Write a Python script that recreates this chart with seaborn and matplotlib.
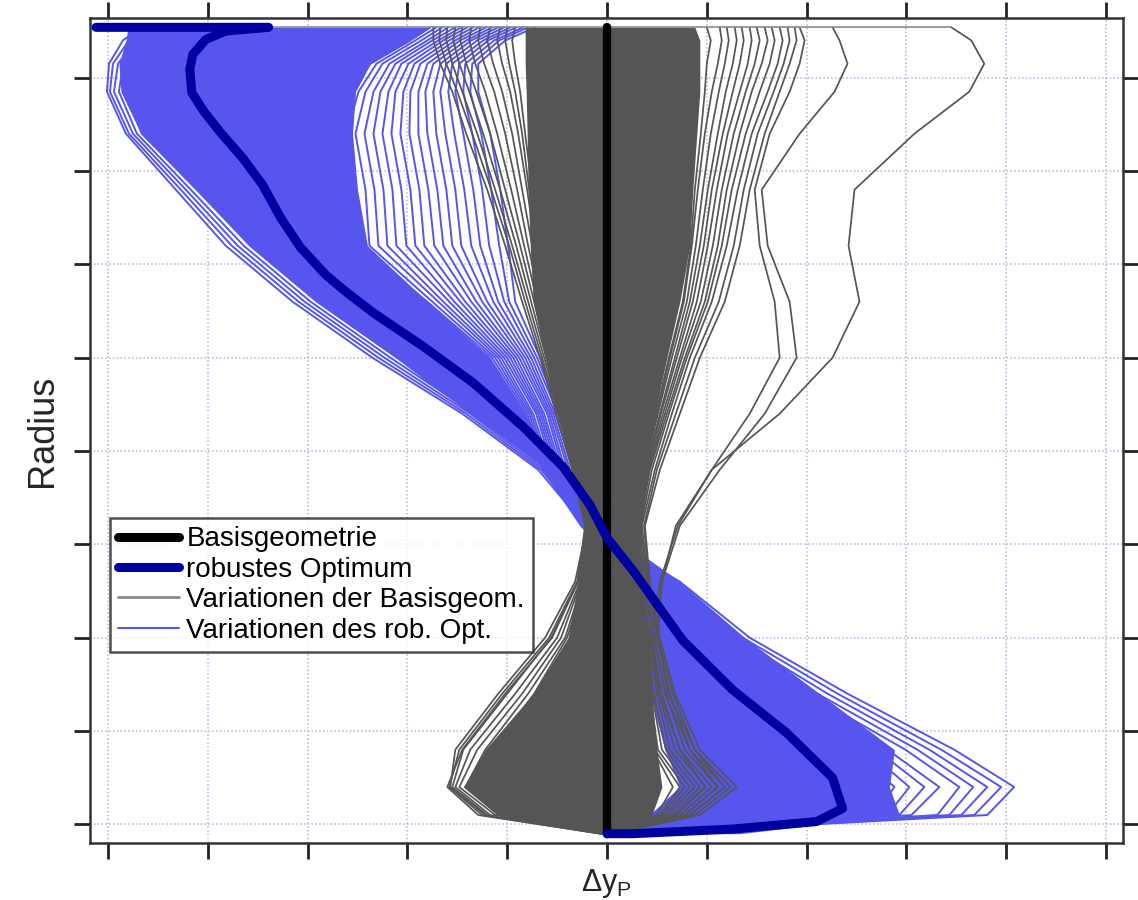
import matplotlib
matplotlib.use("Agg")
import matplotlib.pyplot as plt
from matplotlib.lines import Line2D
import pandas as pd
import seaborn as sns

# Radial stations, tip at the top and hub at the bottom
radius = [854, 840, 815, 785, 740, 680, 620, 560, 500, 440, 380, 320, 260, 200, 140, 80, 40, 10, -10]

# Base geometry: reference line without deviation
base_radius = [-10, 854]
base_dy = [0, 0]

# Robust optimum
opt_radius = [854, 854, 850, 841, 825, 809, 784, 764, 741, 714, 685, 650, 618, 589, 571, 548,
              512, 473, 426, 383, 342, 307, 272, 197, 144, 98, 50, 17, 3, -5, -10, -10]
opt_dy = [-512, -339, -382, -402, -415, -418, -416, -404, -387, -365, -345, -327, -307, -282, -262, -234,
          -184, -134, -84, -44, -17, 0, 26, 76, 126, 180, 226, 236, 210, 126, 26, 0]

# Tip edge of the varied geometries
tip_radius = [854, 854]
tip_dy = [-512, 345]

# Dense cores of the two families of variations (left / right envelope)
base_core_left = [-82, -82, -82, -81, -80, -79, -77, -74, -62, -50, -35, -22, -29, -39, -74, -122, -144, -110, -7]
base_core_right = [88, 93, 93, 93, 90, 86, 83, 73, 60, 48, 39, 33, 35, 43, 45, 50, 55, 45, 5]
opt_core_left = [-480, -482, -489, -487, -467, -412, -359, -292, -212, -137, -59, -22, 15, 33, 43, 58, 73, 43, 5]
opt_core_right = [-177, -197, -237, -252, -255, -250, -240, -180, -117, -82, -47, -5, 73, 138, 213, 288, 283, 293, 133]

# Individual variations of the base geometry
base_variations = {
    "G1": [-174, -174, -167, -155, -141, -120, -102, -85, -67, -51, -35, -22, -29, -55, -102, -145, -160, -129, -7],
    "G16": [-167, -168, -161, -150, -135, -116, -98, -82, -65, -49, -33, -21, -30, -58, -105, -148, -158, -125, -6],
    "G2": [-160, -161, -155, -145, -130, -112, -95, -79, -63, -47, -32, -20, -32, -62, -109, -152, -157, -122, -5],
    "G17": [-152, -154, -148, -138, -124, -107, -91, -76, -61, -45, -31, -19, -29, -56, -100, -144, -155, -120, -5],
    "G3": [-145, -147, -141, -131, -117, -102, -87, -73, -59, -44, -30, -19, -27, -50, -92, -137, -152, -117, -4],
    "G18": [-136, -138, -132, -122, -110, -96, -83, -70, -57, -42, -29, -18, -26, -46, -85, -130, -148, -112, -4],
    "G4": [-127, -129, -123, -113, -102, -90, -79, -67, -55, -41, -28, -17, -24, -42, -79, -122, -142, -107, -3],
    "G19": [-117, -120, -114, -105, -95, -85, -75, -64, -52, -39, -26, -16, -22, -40, -73, -115, -137, -100, -3],
    "G5": [-107, -110, -105, -97, -89, -80, -72, -61, -49, -37, -25, -15, -21, -37, -67, -107, -132, -92, -2],
    "G20": [-100, -102, -98, -92, -85, -78, -70, -59, -47, -35, -23, -14, -19, -33, -60, -97, -125, -85, -2],
    "G6": [-92, -95, -92, -87, -82, -75, -67, -57, -45, -33, -22, -13, -17, -29, -52, -87, -117, -77, -1],
    "G7": [188, 190, 183, 173, 158, 143, 133, 118, 93, 73, 53, 38, 43, 53, 68, 93, 130, 93, 5],
    "G21": [181, 183, 177, 167, 151, 137, 127, 112, 88, 69, 50, 37, 42, 51, 66, 88, 124, 88, 5],
    "G8": [173, 176, 171, 161, 145, 131, 120, 105, 83, 65, 48, 35, 41, 50, 63, 83, 118, 83, 4],
    "G22": [165, 168, 163, 153, 139, 125, 115, 101, 80, 62, 45, 34, 40, 47, 59, 78, 111, 78, 4],
    "G9": [158, 161, 155, 145, 133, 120, 111, 98, 78, 60, 43, 33, 38, 45, 55, 73, 105, 73, 3],
    "G23": [150, 153, 148, 139, 127, 115, 106, 94, 75, 58, 42, 32, 36, 43, 52, 68, 99, 69, 3],
    "G10": [143, 145, 141, 133, 121, 110, 101, 90, 73, 56, 41, 31, 35, 41, 50, 63, 93, 65, 3],
    "G24": [135, 137, 133, 126, 116, 105, 97, 86, 70, 54, 40, 30, 34, 39, 47, 59, 88, 61, 3],
    "G11": [128, 130, 126, 119, 111, 101, 93, 83, 68, 53, 39, 30, 33, 38, 45, 55, 83, 58, 2],
    "G25": [120, 122, 118, 112, 104, 96, 89, 80, 65, 51, 38, 29, 32, 36, 43, 51, 78, 55, 2],
    "G12": [113, 115, 111, 105, 98, 91, 85, 77, 63, 50, 37, 29, 31, 35, 41, 48, 73, 53, 2],
    "G26": [100, 104, 100, 98, 94, 88, 84, 76, 62, 49, 36, 28, 30, 34, 40, 46, 66, 50, 2],
    "G13": [345, 365, 378, 363, 308, 248, 242, 253, 226, 173, 105, 69, 55, 51, 61, 88, 118, 83, 5],
    "G14": [226, 233, 241, 228, 193, 155, 161, 183, 190, 158, 113, 73, 55, 48, 58, 83, 111, 78, 4],
    "G15": [193, 198, 193, 183, 163, 148, 153, 168, 173, 143, 105, 71, 53, 45, 53, 73, 98, 68, 3],
}

# Individual variations of the robust optimum
opt_variations = {
    "B1": [-467, -485, -499, -501, -482, -432, -382, -315, -235, -145, -69, -22, 73, 143, 241, 348, 408, 381, 33],
    "B2": [-457, -479, -495, -498, -479, -427, -376, -309, -229, -141, -66, -20, 68, 136, 231, 335, 395, 368, 29],
    "B3": [-447, -472, -490, -494, -475, -422, -370, -303, -223, -137, -63, -18, 63, 129, 221, 323, 381, 355, 25],
    "B4": [-437, -465, -485, -489, -471, -417, -364, -297, -217, -133, -60, -16, 58, 122, 211, 311, 367, 343, 21],
    "B5": [-422, -455, -477, -482, -466, -411, -357, -290, -210, -128, -57, -14, 53, 115, 201, 299, 353, 331, 17],
    "B6": [-72, -102, -129, -129, -117, -107, -99, -92, -67, -45, -27, -7, 11, 31, 45, 61, 75, 45, 5],
    "B19": [-79, -108, -135, -137, -126, -116, -108, -98, -70, -47, -29, -9, 12, 33, 49, 66, 83, 50, 5],
    "B7": [-84, -113, -142, -144, -135, -125, -118, -103, -73, -49, -32, -11, 13, 35, 53, 71, 91, 55, 6],
    "B20": [-91, -119, -148, -152, -144, -134, -127, -109, -76, -52, -34, -13, 14, 37, 57, 77, 99, 60, 6],
    "B8": [-97, -124, -155, -159, -153, -143, -136, -114, -79, -54, -37, -15, 15, 40, 61, 83, 108, 66, 7],
    "B21": [-103, -130, -161, -167, -162, -152, -146, -120, -82, -56, -39, -16, 16, 42, 65, 89, 115, 72, 7],
    "B9": [-109, -136, -167, -174, -171, -161, -155, -125, -85, -58, -42, -18, 17, 45, 69, 95, 123, 78, 8],
    "B22": [-115, -141, -174, -182, -180, -170, -164, -131, -88, -60, -44, -19, 18, 47, 73, 101, 131, 84, 8],
    "B10": [-121, -147, -180, -189, -189, -179, -173, -136, -91, -63, -46, -20, 19, 50, 78, 108, 140, 91, 9],
    "B23": [-128, -152, -187, -197, -198, -188, -183, -142, -94, -65, -48, -21, 20, 52, 82, 114, 148, 97, 9],
    "B11": [-134, -158, -193, -204, -207, -197, -192, -147, -97, -67, -50, -22, 21, 55, 87, 121, 157, 103, 10],
    "B24": [-140, -164, -199, -212, -216, -206, -201, -153, -100, -69, -52, -22, 22, 57, 92, 128, 165, 109, 10],
    "B12": [-146, -169, -206, -219, -225, -215, -211, -158, -103, -71, -54, -23, 23, 60, 97, 135, 173, 115, 11],
    "B25": [-152, -175, -212, -227, -234, -224, -220, -164, -106, -74, -56, -23, 24, 62, 102, 142, 181, 121, 11],
    "B13": [-159, -180, -218, -234, -243, -233, -229, -169, -109, -76, -58, -24, 25, 65, 107, 149, 190, 128, 12],
    "B26": [-165, -186, -225, -242, -252, -242, -238, -175, -112, -78, -60, -24, 26, 67, 112, 156, 197, 134, 12],
    "B14": [-171, -192, -231, -249, -261, -251, -248, -180, -115, -80, -62, -25, 27, 70, 117, 163, 205, 141, 13],
    "B27": [-177, -197, -237, -257, -270, -260, -257, -186, -118, -82, -64, -26, 28, 72, 122, 170, 213, 147, 13],
    "B15": [-407, -442, -467, -472, -457, -402, -345, -277, -195, -123, -59, -17, 38, 105, 188, 281, 333, 305, 11],
    "B16": [-392, -429, -457, -462, -447, -395, -337, -269, -187, -117, -55, -15, 35, 99, 179, 270, 318, 293, 9],
    "B17": [-377, -417, -447, -452, -437, -387, -329, -261, -179, -111, -51, -13, 33, 93, 171, 259, 303, 281, 7],
    "B18": [-362, -402, -435, -442, -425, -377, -319, -251, -171, -104, -47, -11, 31, 88, 163, 248, 288, 268, 5],
}

legend_labels = ["Basisgeometrie", "robustes Optimum",
                 "Variationen der Basisgeom.", "Variationen des rob. Opt."]

GRAY = "#555555"
BLUE = "#5656EE"
NAVY = "#0000A0"


def long_frame(curves):
    rows = []
    for name, values in curves.items():
        for r, d in zip(radius, values):
            rows.append({"curve": name, "radius": r, "dy": d})
    return pd.DataFrame(rows)


sns.set_style("white")
plt.rcParams["font.family"] = ["Liberation Sans", "DejaVu Sans"]
plt.rcParams["mathtext.fontset"] = "custom"
plt.rcParams["mathtext.rm"] = "Liberation Sans"
plt.rcParams["mathtext.it"] = "Liberation Sans:italic"

fig = plt.figure(figsize=(11.38, 9), dpi=100)
ax = fig.add_axes([0.0791, 0.0633, 0.9077, 0.9167])

# robust-optimum variations (drawn beneath the base family)
ax.fill_betweenx(radius, opt_core_left, opt_core_right, color=BLUE, lw=0, zorder=2)
sns.lineplot(data=long_frame(opt_variations), x="dy", y="radius", units="curve",
             estimator=None, sort=False, color=BLUE, linewidth=1.4, legend=False,
             ax=ax, zorder=2)

# base-geometry variations
ax.fill_betweenx(radius, base_core_left, base_core_right, color=GRAY, lw=0, zorder=3)
sns.lineplot(data=long_frame(base_variations), x="dy", y="radius", units="curve",
             estimator=None, sort=False, color=GRAY, linewidth=1.25, legend=False,
             ax=ax, zorder=3)
sns.lineplot(x=tip_dy, y=tip_radius, estimator=None, sort=False, color="#8a8a8a",
             linewidth=1.2, ax=ax, zorder=3)

# base geometry and robust optimum
sns.lineplot(x=base_dy, y=base_radius, estimator=None, sort=False, color="black",
             linewidth=6.0, solid_capstyle="round", ax=ax, zorder=5)
sns.lineplot(x=opt_dy, y=opt_radius, estimator=None, sort=False, color=NAVY,
             linewidth=6.5, solid_capstyle="round", solid_joinstyle="round", ax=ax, zorder=6)

ax.set_xlim(-518, 517)
ax.set_ylim(-20, 864)
ax.set_xticks(range(-500, 501, 100))
ax.set_yticks(range(0, 801, 100))
ax.tick_params(direction="out", length=11.5, width=2.0, color="#222222",
               top=True, right=True, bottom=True, left=True,
               labelbottom=False, labelleft=False)
ax.grid(True, linestyle=(0, (1, 1.5)), color="#b4b4dc", linewidth=1.1)
ax.set_axisbelow(True)
for sp in ax.spines.values():
    sp.set_linewidth(1.8)
    sp.set_color("#333333")

ax.set_ylabel("Radius", fontsize=26, labelpad=10)
ax.set_xlabel(r"$\mathrm{\Delta y_P}$", fontsize=22, labelpad=6)

handles = [
    Line2D([], [], color="black", lw=6.5, solid_capstyle="round"),
    Line2D([], [], color=NAVY, lw=6.5, solid_capstyle="round"),
    Line2D([], [], color="#8a8a8a", lw=2.0),
    Line2D([], [], color=BLUE, lw=1.5),
]
leg = ax.legend(handles, legend_labels, loc="upper left", bbox_to_anchor=(0.0194, 0.394),
                borderaxespad=0, fontsize=20, handlelength=2.2, handletextpad=0.25,
                labelspacing=0.16, borderpad=0.3, frameon=True, fancybox=False)
leg.get_frame().set_edgecolor("#222222")
leg.get_frame().set_linewidth(1.8)
leg.set_zorder(10)
for t in leg.get_texts():
    t.set_color("black")

fig.savefig("out.png", dpi=100, facecolor="white")
